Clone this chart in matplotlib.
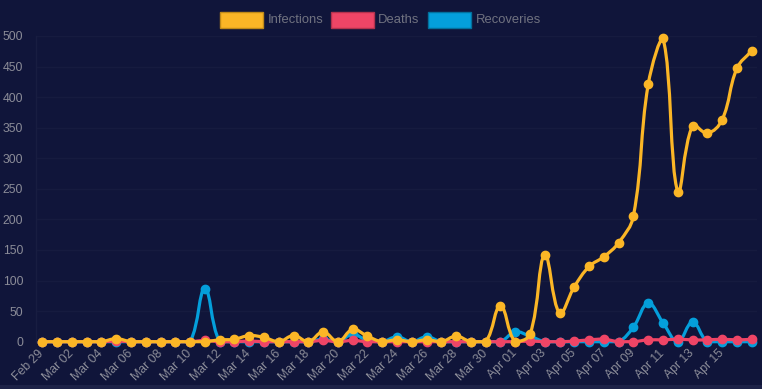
import numpy as np
import pandas as pd
import matplotlib
matplotlib.use("Agg")
import matplotlib.pyplot as plt
from matplotlib.path import Path
from matplotlib.patches import PathPatch, Rectangle

# ---------------- data ----------------
dates = pd.date_range("2020-02-29", "2020-04-17", freq="D")
labels = [d.strftime("%b %d") for d in dates]

infections = [0, 0, 0, 0, 0, 5, 0, 0, 0, 0, 0, 0, 3, 4, 10, 7, 0, 10, 0, 16,
              0, 20, 9, 0, 3, 0, 3, 0, 9, 0, 0, 59, 0, 12, 142, 47, 90, 123, 139, 162,
              206, 421, 496, 245, 353, 341, 363, 447, 476]
deaths = [0, 0, 0, 0, 0, 1, 0, 0, 0, 0, 0, 2, 0, 0, 1, 0, 0, 0, 0, 2,
          0, 2, 0, 0, 0, 0, 0, 0, 0, 0, 0, 0, 0, 1, 0, 0, 1, 3, 4, 0,
          0, 3, 3, 4, 3, 3, 4, 3, 4]
recoveries = [0, 0, 0, 0, 0, 0, 0, 0, 0, 0, 0, 87, 0, 0, 0, 0, 0, 0, 0, 4,
              0, 12, 2, 0, 8, 0, 8, 0, 0, 0, 0, 0, 16, 9, 0, 0, 0, 0, 0, 0,
              24, 63, 31, 0, 32, 0, 0, 0, 0]

series_names = ["Infections", "Deaths", "Recoveries"]
series_colors = ["#fbb626", "#ef4566", "#049fdb"]
series_edges = ["#c08a18", "#b3324d", "#03709c"]
series_values = [infections, deaths, recoveries]

y_ticks = list(range(0, 501, 50))
tick_idx = list(range(0, 47, 2))

# ---------------- figure ----------------
W, H = 762, 389
BG = "#10153a"
fig = plt.figure(figsize=(W / 100, H / 100), dpi=100, facecolor=BG)
plt.rcParams["font.family"] = ["Liberation Sans", "DejaVu Sans"]

ax_l, ax_r, ax_t, ax_b = 35.7, 757.0, 36.0, 341.7
ax = fig.add_axes([ax_l / W, (H - ax_b) / H, (ax_r - ax_l) / W, (ax_b - ax_t) / H])
ax.set_facecolor(BG)

n = len(dates)
x = np.arange(n)
xmin, xmax = -0.447, 48.36
ymin, ymax = 0, 500
ax.set_xlim(xmin, xmax)
ax.set_ylim(ymin, ymax)

sx = (ax_r - ax_l) / (xmax - xmin)
sy = (ax_b - ax_t) / (ymax - ymin)


def chart_spline(xs, ys, tension=0.4):
    P = np.column_stack([np.asarray(xs, float) * sx, np.asarray(ys, float) * sy])
    m = len(P)
    prev_cp = np.zeros_like(P)
    next_cp = np.zeros_like(P)
    for i in range(m):
        p0 = P[i - 1] if i > 0 else P[i]
        p1 = P[i]
        p2 = P[i + 1] if i < m - 1 else P[i]
        d01 = np.hypot(*(p1 - p0))
        d12 = np.hypot(*(p2 - p1))
        tot = d01 + d12
        s01 = d01 / tot if tot > 0 else 0
        s12 = d12 / tot if tot > 0 else 0
        fa, fb = tension * s01, tension * s12
        prev_cp[i] = p1 - fa * (p2 - p0)
        next_cp[i] = p1 + fb * (p2 - p0)
    lo = np.array([xmin * sx, ymin * sy])
    hi = np.array([xmax * sx, ymax * sy])
    prev_cp = np.clip(prev_cp, lo, hi)
    next_cp = np.clip(next_cp, lo, hi)
    verts = [P[0]]
    codes = [Path.MOVETO]
    for i in range(m - 1):
        verts += [next_cp[i], prev_cp[i + 1], P[i + 1]]
        codes += [Path.CURVE4] * 3
    verts = np.array(verts) / np.array([sx, sy])
    return Path(verts, codes)


# draw in reverse so the first dataset sits on top (as Chart.js does)
for k in reversed(range(len(series_names))):
    vals = series_values[k]
    col = series_colors[k]
    path = chart_spline(x, vals)
    z = 10 + (len(series_names) - k) * 2
    ax.add_patch(PathPatch(path, facecolor="none", edgecolor=col, lw=2.3,
                           capstyle="round", joinstyle="round", zorder=z, clip_on=False))
    ax.plot(x, vals, linestyle="none", marker="o", markersize=6.0, color=col,
            markeredgecolor=col, zorder=z + 1, clip_on=False)

# grid / axes styling
ax.set_yticks(y_ticks)
ax.set_yticklabels([str(v) for v in y_ticks])
ax.grid(axis="y", color="#161b3f", lw=1.0, zorder=0)
ax.grid(axis="x", visible=False)
for s in ["top", "right", "bottom"]:
    ax.spines[s].set_visible(False)
ax.spines["left"].set_color("#181d41")
ax.spines["left"].set_linewidth(1.0)
ax.tick_params(axis="y", length=0, pad=9, labelsize=8.8, labelcolor="#8b8c98")
ax.set_xticks(tick_idx)
ax.set_xticklabels([labels[i] for i in tick_idx], rotation=45, ha="right",
                   va="center", rotation_mode="anchor")
ax.tick_params(axis="x", length=0, pad=7, labelsize=8.8, labelcolor="#8b8c98")

# legend (Chart.js style, top centre)
legend_boxes = [(220.0, 263.0), (330.5, 373.5), (427.5, 471.0)]
box_top, box_bot = 12.3, 27.7
for (bx0, bx1), name, col, ec in zip(legend_boxes, series_names, series_colors, series_edges):
    fig.add_artist(Rectangle((bx0 / W, (H - box_bot) / H), (bx1 - bx0) / W,
                             (box_bot - box_top) / H, transform=fig.transFigure,
                             facecolor=col, edgecolor=ec, lw=1.0))
    fig.text((bx1 + 4.5) / W, (H - 20.0) / H, name, color="#707280",
             fontsize=9.4, ha="left", va="center")

# lighter strip at the very bottom (card edge)
fig.add_artist(Rectangle((0, 0), 1, 4 / H, transform=fig.transFigure,
                         facecolor="#1d2247", edgecolor="none"))

fig.savefig("out.png", dpi=100, facecolor=BG)
